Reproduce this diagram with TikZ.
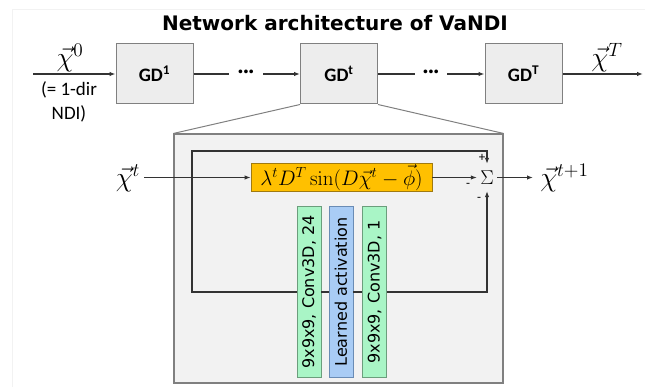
\RequirePackage{fix-cm}
\documentclass[tikz,border=0pt]{standalone}
\usepackage[no-math]{fontspec}
\setmainfont{Carlito}
\newfontfamily\dejavu{DejaVu Sans}
\usetikzlibrary{arrows.meta}
\definecolor{orangefill}{HTML}{FFC000}
\definecolor{orangeline}{HTML}{A07A10}
\definecolor{greenfill}{HTML}{A9F5C6}
\definecolor{greenline}{HTML}{6B9E7C}
\definecolor{bluefill}{HTML}{A9CCF5}
\definecolor{blueline}{HTML}{6A8CB5}
\definecolor{panelfill}{HTML}{F2F2F2}
\definecolor{edgegray}{HTML}{808080}
\definecolor{gdfill}{HTML}{EDEDED}
\definecolor{linegray}{HTML}{333333}
\begin{document}
\begin{tikzpicture}[x=1pt,y=-1pt,
  gdbox/.style={draw=edgegray, fill=gdfill, line width=1pt, minimum width=77pt, minimum height=60pt, inner sep=0pt, font=\fontsize{19}{21}\selectfont\bfseries},
  conn/.style={line width=1.1pt, draw=linegray},
  arr/.style={conn, -{Latex[length=6pt,width=4.5pt]}},
  lbl/.style={font=\fontsize{19}{24}\selectfont, inner sep=0pt},
  mlbl/.style={font=\fontsize{22}{26}\selectfont, inner sep=0pt, scale=1.25},
  sign/.style={font=\fontsize{13}{14}\selectfont, inner sep=0pt},
  dotsnode/.style={font=\fontsize{20}{22}\selectfont\bfseries, inner sep=0pt, minimum height=10pt},
  layer/.style={draw=#1line, fill=#1fill, line width=0.8pt, rotate=90, minimum width=171pt, minimum height=24pt, inner sep=0pt, font=\dejavu\fontsize{16}{18}\selectfont},
]
\useasboundingbox (0,0) rectangle (645,387);
% faint slide border
\draw[black!5, line width=0.8pt] (645,9.5) -- (12.5,9.5) -- (12.5,387);

% title
\node[anchor=base, inner sep=0pt, font=\dejavu\bfseries\fontsize{20}{24}\selectfont] (title) at (335,31) {Network architecture of VaNDI};

% top row
\coordinate (in0) at (33,74);
\node[gdbox] (gd1) at (154.5,74) {GD\textsuperscript{1}};
\node[gdbox] (gdt) at (339,74) {GD\textsuperscript{t}};
\node[gdbox] (gdT) at (523.5,74) {GD\textsuperscript{T}};
\coordinate (outT) at (643,74);
\node[dotsnode, minimum width=34pt] (dots1) at (246,74) {\raisebox{-2.5pt}{···}};
\node[dotsnode, minimum width=32pt] (dots2) at (431,74) {\raisebox{-2.5pt}{···}};

\draw[arr] (in0) -- (gd1);
\draw[conn] (gd1) -- (dots1);
\draw[arr] (dots1) -- (gdt);
\draw[conn] (gdt) -- (dots2);
\draw[arr] (dots2) -- (gdT);
\draw[arr] (gdT) -- (outT);

\node[mlbl] (x0) at (70,58) {$\vec{\chi}^{0}$};
\node[lbl, align=center] (x0note) at (69,102) {(= 1-dir\\NDI)};
\node[mlbl] (xT) at (607,58) {$\vec{\chi}^{T}$};

% zoom panel
\node[draw=edgegray, fill=panelfill, line width=1.1pt, minimum width=329pt, minimum height=249pt, inner sep=0pt] (panel) at (338.5,258.5) {};
\draw[edgegray, line width=1pt] (gdt.south west) -- (panel.north west);
\draw[edgegray, line width=1pt] (gdt.south east) -- (panel.north east);

% inner block
\node[draw=orangeline, fill=orangefill, line width=0.8pt, minimum width=181pt, minimum height=28pt, inner sep=0pt, font=\fontsize{21}{23}\selectfont] (grad) at (341.5,177.5) {$\lambda^{t} D^{T} \sin\Bigl(D\vec{\chi}^{t}-\vec{\phi}\Bigr)$};
\node[minimum width=20pt, minimum height=27pt, inner sep=0pt, font=\fontsize{20}{22}\selectfont] (sum) at (487,177.5) {$\Sigma$};

\node[layer=green] (g1) at (309,292) {9x9x9, Conv3D, 24};
\node[layer=blue] (act) at (341,292) {Learned activation};
\node[layer=green] (g2) at (374.5,292) {9x9x9, Conv3D, 1};

\node[mlbl] (xt) at (128,178) {$\vec{\chi}^{t}$};
\coordinate (xtin) at (144,177.5);
\coordinate (j) at (192,177.5);
\coordinate (tl) at (192,151);
\coordinate (bl) at (192,292);
\coordinate (xout) at (533,177.5);
\node[mlbl, anchor=west] (xt1) at (540,178) {$\vec{\chi}^{t+1}$};

\draw[arr] (xtin) -- (grad);
\draw[arr] (j) -- (tl) -| (sum.north);
\draw[conn] (j) -- (bl) -- (g1);
\draw[conn] (g1) -- (act);
\draw[conn] (act) -- (g2);
\draw[arr] (g2) -| (sum.south);
\draw[arr] (grad) -- (sum);
\draw[arr] (sum) -- (xout);

\node[sign] (plus) at (482,158) {+};
\node[sign] (minus1) at (468,185) {-};
\node[sign] (minus2) at (479,199) {-};
\end{tikzpicture}
\end{document}
